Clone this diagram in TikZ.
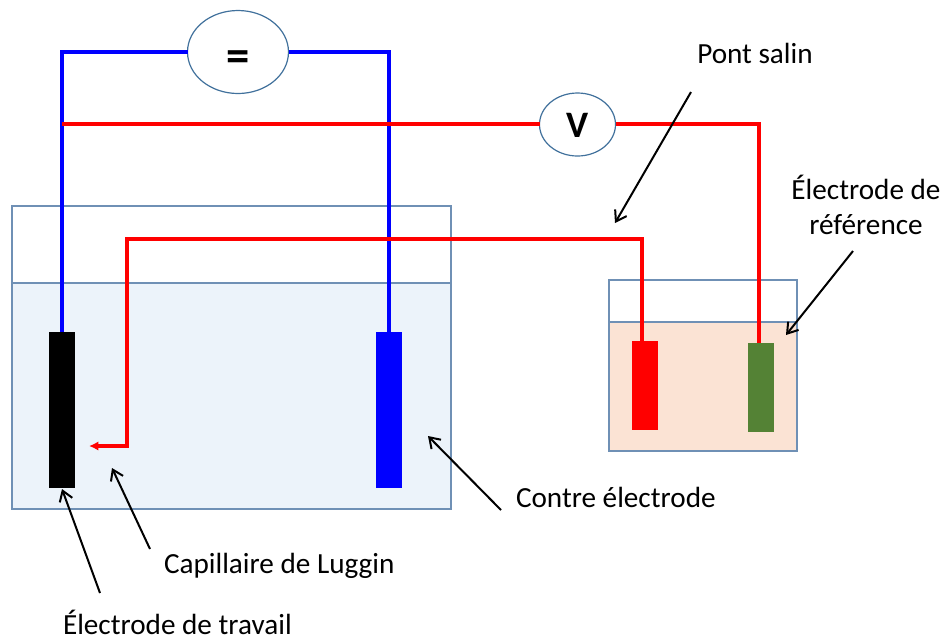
\documentclass[tikz,border=0pt]{standalone}
\usepackage{fontspec}
\setmainfont{Carlito}
\usetikzlibrary{shapes.geometric,arrows.meta}
\definecolor{tankline}{HTML}{6F90B5}
\definecolor{bleuliq}{HTML}{ECF3FA}
\definecolor{roseliq}{HTML}{FBE3D4}
\definecolor{vert}{HTML}{548235}
\definecolor{ovalline}{HTML}{41719C}
\tikzset{
  x=0.75pt,y=-0.75pt,
  tank/.style={draw=tankline,line width=0.9pt,fill=#1,inner sep=0,outer sep=0},
  elec/.style={fill=#1,draw=none,inner sep=0,outer sep=0},
  oval/.style={ellipse,draw=ovalline,line width=0.9pt,fill=white,inner sep=0,outer sep=0},
  wireb/.style={draw={rgb,255:red,0;green,0;blue,255},line width=2.3pt},
  wirer/.style={draw=red,line width=2.3pt},
  note/.style={-{Straight Barb[length=7.5pt,width=10pt,line width=1.5pt]},line width=1.5pt,black},
  lab/.style={font=\fontsize{21.9pt}{26pt}\selectfont,inner sep=0,outer sep=0,text=black},
}
\newcommand{\boxat}[6]{\node[#1,minimum width=#4*0.75pt,minimum height=#5*0.75pt,anchor=north west] (#2) at #3 {#6};}
\begin{document}
\begin{tikzpicture}
\useasboundingbox (0,0) rectangle (943,637);
% tanks
\boxat{tank=white}{tankA}{(12,206)}{439}{303}{}
\boxat{tank=bleuliq}{liqA}{(12,283)}{439}{226}{}
\boxat{tank=white}{tankB}{(609,280)}{188}{171}{}
\boxat{tank=roseliq}{liqB}{(609,322)}{188}{129}{}
% electrodes
\boxat{elec=black}{we}{(49,332)}{26}{156}{}
\boxat{elec=blue}{ce}{(376,332)}{26}{156}{}
\boxat{elec=red}{re}{(632,341)}{26}{89}{}
\boxat{elec=vert}{ge}{(748,343)}{26}{89}{}
% meters
\node[oval,minimum width=101*0.75pt,minimum height=83*0.75pt,font=\bfseries\fontsize{35pt}{35pt}\selectfont,text height=29.8pt,text depth=0pt] (gen) at (238,52) {=};
\node[oval,minimum width=76*0.75pt,minimum height=63*0.75pt,font=\bfseries\fontsize{28pt}{28pt}\selectfont,text height=18.8pt,text depth=0pt] (volt) at (577.5,124.5) {V};
% helper corners
\coordinate (b1) at (62,52);
\coordinate (b2) at (389,52);
\coordinate (r0) at (62,124);
\coordinate (r1) at (759,124);
\coordinate (c1) at (642,239);
\coordinate (c2) at (127,239);
\coordinate (c3) at (127,446);
\coordinate (c4) at (89,446);
% wires
\draw[wireb] (we.north -| b1) -- (b1) -- (b1 -| gen.west);
\draw[wireb] (b2 -| gen.east) -- (b2) -- (b2 |- ce.north);
\draw[wirer] (r0) -- (r0 -| volt.west);
\draw[wirer] (r0 -| volt.east) -- (r1) -- (r1 |- ge.north);
\draw[wirer,-{Latex[length=7pt,width=7pt]}] (c1 |- re.north) -- (c1) -- (c2) -- (c3) -- (c4);
% labels
\node[lab,anchor=base] (pont) at (755,63) {Pont salin};
\node[lab,anchor=base] (ref1) at (866,199) {Électrode de};
\node[lab,anchor=base] (ref2) at (866,234) {référence};
\node[lab,anchor=base west] (contre) at (516,507) {Contre électrode};
\node[lab,anchor=base west] (lug) at (164,573) {Capillaire de Luggin};
\node[lab,anchor=base west] (trav) at (63,634) {Électrode de travail};
% annotation arrows
\coordinate (a1s) at (691,92); \coordinate (a1e) at (615,223);
\coordinate (a2s) at (853,251); \coordinate (a2e) at (786,335);
\coordinate (a3s) at (501,510); \coordinate (a3e) at (428,436);
\coordinate (a4s) at (150,549); \coordinate (a4e) at (112,468);
\coordinate (a5s) at (100,593); \coordinate (a5e) at (62,489);
\draw[note] (a1s) -- (a1e);
\draw[note] (a2s) -- (a2e);
\draw[note] (a3s) -- (a3e);
\draw[note] (a4s) -- (a4e);
\draw[note] (a5s) -- (a5e);
\end{tikzpicture}
\end{document}
